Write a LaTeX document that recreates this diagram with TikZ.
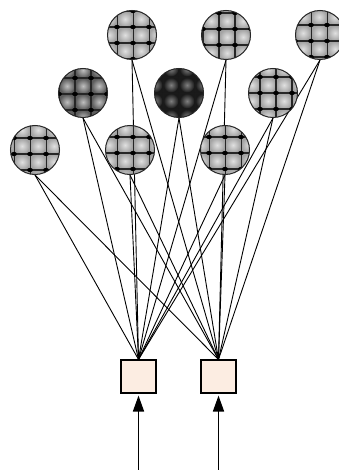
\documentclass[tikz,border=0pt]{standalone}
\usetikzlibrary{arrows.meta,backgrounds}
\definecolor{peach}{HTML}{FCEDE2}
\tikzset{
  % textured sphere: base, spot colour, grid offset x/y, line widths h/v, dot radius
  ball/.style n args={7}{circle, draw=black!85, line width=1pt,
    minimum size=49pt, inner sep=0pt, fill=#1,
    path picture={
      \begin{scope}[shift={(path picture bounding box.center)}]
        \foreach \i in {-2,...,2}{\foreach \j in {-2,...,2}{
          \shade[inner color=#2, outer color=#1] (#3+16*\i+8, #4+16*\j+8) circle (7.5);}}
        \foreach \i in {-2,...,2}{
          \draw[black!85, line width=#5] (-30, #4+16*\i) -- (30, #4+16*\i);
          \draw[black!85, line width=#6] (#3+16*\i, -30) -- (#3+16*\i, 30);}
        \foreach \i in {-2,...,2}{\foreach \j in {-2,...,2}{
          \fill[black] (#3+16*\i, #4+16*\j) ellipse (#7 and 0.75*#7);}}
      \end{scope}}},
  inbox/.style={draw=black, line width=1.1pt, fill=peach,
    minimum width=35pt, minimum height=33pt, inner sep=0pt},
  link/.style={black, line width=0.9pt},
  feedtip/.tip={Triangle[length=16pt,width=11pt]},
  feed/.style={-feedtip, line width=1.6pt, shorten >=2pt}
}
\begin{document}
\begin{tikzpicture}[x=1pt,y=-1pt]
  \useasboundingbox (0,0) rectangle (338,470);

  % top row
  \node[ball={black!36}{black!12}{1}{-8}{1.6pt}{0.5pt}{2.9}]   (t1) at (132,35) {};
  \node[ball={black!36}{black!12}{-7}{-6}{1.4pt}{1.4pt}{2.9}]  (t2) at (226,35) {};
  \node[ball={black!36}{black!12}{-9}{-10}{1.6pt}{0.5pt}{2.9}] (t3) at (320,35) {};
  % middle row
  \node[ball={black!64}{black!25}{-8}{1}{1.5pt}{1.3pt}{2.9}]   (m1) at (83,93) {};
  \node[ball={black!90}{black!50}{0}{0}{0.01pt}{0.01pt}{0.01}] (m2) at (179,93) {};
  \node[ball={black!36}{black!12}{3}{0}{1.4pt}{1.4pt}{2.9}]    (m3) at (273,93) {};
  % bottom row
  \node[ball={black!36}{black!12}{-5}{-12}{1.6pt}{0.5pt}{2.9}] (d1) at (35,150) {};
  \node[ball={black!36}{black!12}{3}{-13}{1.6pt}{0.5pt}{2.9}]  (d2) at (130,150) {};
  \node[ball={black!36}{black!12}{0}{-13}{1.6pt}{0.5pt}{2.9}]  (d3) at (225,150) {};

  % input units
  \node[inbox] (b1) at (138.5,376.5) {};
  \node[inbox] (b2) at (218.5,376.5) {};

  % full connections, behind the spheres
  \begin{scope}[on background layer]
    \fill[white] (0,0) rectangle (338,470);
    \foreach \c in {t1,t2,t3,m1,m2,m3,d1,d2,d3}{
      \draw[link] (\c.south) -- (b1.north);
      \draw[link] (\c.south) -- (b2.north);}
  \end{scope}

  % incoming signals
  \coordinate (s1) at (138.5,470);
  \coordinate (s2) at (218.5,470);
  \draw[feed] (s1) -- (b1.south);
  \draw[feed] (s2) -- (b2.south);
\end{tikzpicture}
\end{document}
